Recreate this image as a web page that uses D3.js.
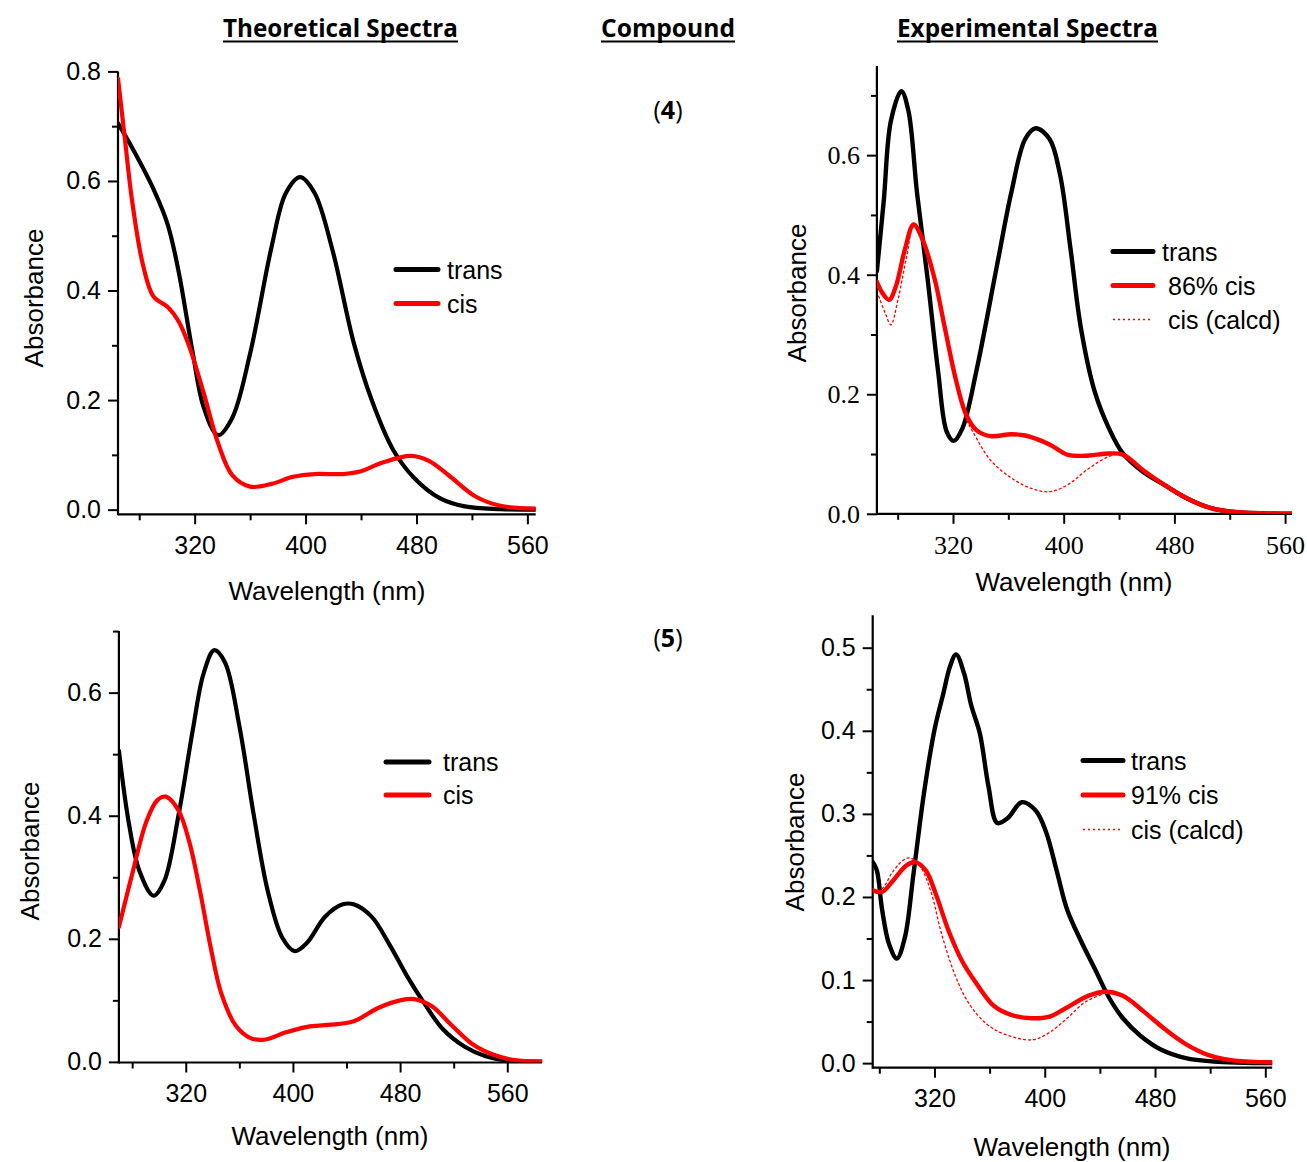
<!DOCTYPE html>
<html>
<head>
<meta charset="utf-8">
<script src="https://cdn.jsdelivr.net/npm/d3@7"></script>
<style>
  body { margin: 0; background: #fff; }
  svg { display: block; }
</style>
</head>
<body>
<div id="main"></div>
<script>
// ---- data: [wavelength nm, absorbance] ----
var theo4Trans = [[264.7,0.705],[275,0.66],[290.3,0.585],[300.6,0.52],[308.4,0.435],[318.7,0.285],[326.5,0.187],
  [336.8,0.136],[347,0.167],[360,0.285],[375.5,0.48],[385.8,0.578],[396.1,0.607],[406.5,0.578],[419.4,0.474],
  [434.8,0.304],[447.7,0.2],[463.2,0.109],[478.7,0.057],[496.8,0.021],[514.8,0.006],[540.6,0.001],[566,0]];
var theo4Cis = [[264.7,0.787],[269.7,0.676],[274.8,0.565],[282.6,0.448],[290.3,0.389],[300.6,0.37],[308.4,0.344],
  [316.1,0.298],[326.5,0.213],[336.8,0.122],[347.1,0.063],[360,0.042],[375.5,0.047],[391,0.06],[406.5,0.065],
  [427.1,0.065],[440,0.07],[455.5,0.086],[476.1,0.098],[489,0.089],[504.5,0.06],[522.6,0.024],[540.6,0.007],[566,0.002]];

var exp4Trans = [[265,0.406],[270,0.525],[275.1,0.657],[282.7,0.707],[287.7,0.675],[294,0.537],[301.6,0.394],
  [309.2,0.239],[315.5,0.137],[320.5,0.122],[326.8,0.143],[336.9,0.239],[352,0.418],[362.1,0.537],[372.2,0.627],
  [379.8,0.645],[389.8,0.627],[397.4,0.567],[405,0.442],[412.5,0.31],[422.6,0.203],[432.7,0.143],[442.8,0.101],
  [457.9,0.069],[473,0.048],[488.2,0.027],[505.8,0.01],[523.5,0.003],[565,0]];
var exp4Cis = [[265,0.388],[268.8,0.37],[273.9,0.358],[278.9,0.382],[285.2,0.442],[291.5,0.484],[297.8,0.46],
  [306.6,0.394],[314.2,0.31],[321.8,0.227],[329.3,0.167],[336.9,0.14],[347,0.13],[362.1,0.133],[372.2,0.131],
  [389.8,0.116],[402.5,0.099],[415,0.097],[432.7,0.101],[442.8,0.099],[457.9,0.072],[473,0.048],[488.2,0.027],
  [505.8,0.01],[523.5,0.003],[565,0]];
var exp4Calcd = [[266.3,0.364],[271.3,0.334],[275.1,0.316],[280.2,0.358],[286.5,0.43],[291.5,0.48],[297.8,0.457],
  [306.6,0.392],[314.2,0.306],[321.8,0.222],[329.3,0.16],[334.4,0.137],[347,0.09],[362.1,0.06],[377.2,0.042],
  [389.8,0.037],[402.5,0.048],[417.6,0.075],[432.7,0.096],[442.8,0.1],[457.9,0.072],[473,0.048],[488.2,0.027],
  [505.8,0.01],[523.5,0.003],[565,0]];

var theo5Trans = [[270.1,0.506],[277.3,0.391],[285.3,0.311],[296,0.27],[304,0.294],[314.7,0.402],[325.3,0.54],
  [333.3,0.631],[341.3,0.669],[349.3,0.649],[360,0.546],[370.7,0.402],[381.3,0.277],[392,0.202],[401.3,0.18],
  [410.7,0.194],[424,0.236],[437.3,0.256],[445.3,0.256],[458.7,0.236],[472,0.191],[485.3,0.139],[498.7,0.093],
  [512,0.053],[528,0.025],[544,0.009],[560,0.002],[586,0]];
var theo5Cis = [[270.1,0.219],[280,0.305],[290.7,0.391],[298.7,0.425],[305.3,0.431],[314.7,0.408],[322.7,0.357],
  [330.7,0.277],[338.7,0.185],[346.7,0.11],[357.3,0.059],[368,0.039],[378.7,0.036],[394.7,0.048],[410.7,0.057],
  [426.7,0.06],[445.3,0.066],[464,0.088],[480,0.1],[490.7,0.102],[504,0.09],[517.3,0.062],[533.3,0.03],
  [549.3,0.012],[565.3,0.003],[586,0.001]];

var exp5Trans = [[275.2,0.242],[278.2,0.232],[282,0.185],[287.1,0.143],[292.7,0.126],[298.5,0.151],[304.8,0.228],
  [312.4,0.325],[320,0.401],[326.3,0.444],[331.4,0.478],[335.7,0.492],[341.5,0.469],[346.6,0.431],[352.9,0.397],
  [359.2,0.333],[365.6,0.289],[373.2,0.295],[383.3,0.314],[393.4,0.304],[401,0.278],[408.6,0.232],[416.2,0.185],
  [426.3,0.147],[436.5,0.113],[446.6,0.079],[456.7,0.054],[469.4,0.033],[484.6,0.016],[502.3,0.006],[522.5,0.002],[565,0]];
var exp5Cis = [[275.2,0.208],[282,0.206],[289.6,0.219],[299.7,0.238],[306.1,0.242],[313.7,0.232],[321.3,0.202],
  [330.1,0.16],[340.3,0.122],[350.4,0.096],[363,0.069],[375.7,0.058],[390.9,0.054],[403.5,0.056],[416.2,0.067],
  [431.4,0.081],[444.1,0.086],[456.7,0.081],[471.9,0.062],[487.1,0.041],[502.3,0.023],[520,0.009],[537.7,0.003],[565,0.001]];
var exp5Calcd = [[275.2,0.206],[282,0.21],[289.6,0.23],[297.2,0.244],[302.3,0.247],[309.9,0.236],[317.5,0.206],
  [325.1,0.156],[335.2,0.105],[345.3,0.071],[358,0.047],[370.6,0.035],[390.9,0.028],[403.5,0.037],[416.2,0.054],
  [428.9,0.073],[441.5,0.083],[444.1,0.086],[456.7,0.081],[471.9,0.062],[487.1,0.041],[502.3,0.023],[520,0.009],
  [537.7,0.003],[565,0.001]];

var xMajor = [320, 400, 480, 560];
var xMinor = [280, 360, 440, 520];
var yMajor8 = [0, 0.2, 0.4, 0.6, 0.8];
var yMinor8 = [0.1, 0.3, 0.5, 0.7];
var yMajor6 = [0, 0.2, 0.4, 0.6];
var yMajor5 = [0, 0.1, 0.2, 0.3, 0.4, 0.5];
var yMinor5 = [0.05, 0.15, 0.25, 0.35, 0.45];

var headers = ['Theoretical Spectra', 'Compound', 'Experimental Spectra'];
var compounds = ['4', '5'];

var W = 1307, H = 1162;
var sans = '"Liberation Sans", Arial, sans-serif';
var serif = '"Liberation Serif", "Times New Roman", serif';

var svg = d3.select('#main').append('svg').attr('width', W).attr('height', H);
svg.append('rect').attr('width', W).attr('height', H).attr('fill', '#fff');

// headings
var headPos = [[223, 235], [601, 134], [897, 261]];
headers.forEach(function(t, i) {
  svg.append('text').attr('x', headPos[i][0]).attr('y', 37)
    .attr('textLength', headPos[i][1]).attr('lengthAdjust', 'spacingAndGlyphs')
    .style('font-family', '"Liberation Sans Narrow", "Open Sans", sans-serif')
    .style('font-weight', 'bold').style('font-size', '25px').text(t);
  svg.append('line').attr('x1', headPos[i][0]).attr('x2', headPos[i][0] + headPos[i][1])
    .attr('y1', 41.5).attr('y2', 41.5).attr('stroke', '#000').attr('stroke-width', 2);
});

[119, 647].forEach(function(y, i) {
  var t = svg.append('text').attr('x', 668).attr('y', y).attr('text-anchor', 'middle')
    .style('font-family', '"Open Sans", sans-serif').style('font-size', '25px');
  t.append('tspan').text('(');
  t.append('tspan').style('font-weight', 'bold').text(compounds[i]);
  t.append('tspan').text(')');
});

function panel(o) {
  var g = svg.append('g');
  var x = d3.scaleLinear().domain(o.xd).range([o.l, o.r]);
  var y = d3.scaleLinear().domain(o.yd).range([o.b, o.t]);

  var xa = g.append('g').attr('transform', 'translate(0,' + o.b + ')')
    .call(d3.axisBottom(x).tickValues(xMajor).tickSize(10).tickPadding(6).tickFormat(d3.format('d')));
  g.append('g').attr('transform', 'translate(0,' + o.b + ')')
    .call(d3.axisBottom(x).tickValues(xMinor).tickSize(6).tickFormat(''));
  var ya = g.append('g').attr('transform', 'translate(' + o.l + ',0)')
    .call(d3.axisLeft(y).tickValues(o.yMajor).tickSize(10).tickPadding(7).tickFormat(d3.format('.1f')));
  g.append('g').attr('transform', 'translate(' + o.l + ',0)')
    .call(d3.axisLeft(y).tickValues(o.yMinor).tickSize(6).tickFormat(''));

  g.selectAll('.tick line').attr('stroke-width', 2);
  // plain axis lines (no end caps)
  g.selectAll('.domain').remove();
  g.append('line').attr('x1', o.l).attr('x2', o.r).attr('y1', o.b).attr('y2', o.b)
    .attr('stroke', '#000').attr('stroke-width', 2.2);
  g.append('line').attr('x1', o.l).attr('x2', o.l).attr('y1', o.t).attr('y2', o.b + 1)
    .attr('stroke', '#000').attr('stroke-width', 2.2);

  [xa, ya].forEach(function(a) {
    a.selectAll('text').style('font-family', o.tickFont).style('font-size', o.tickSize + 'px').attr('fill', '#000');
  });
  xa.selectAll('text').attr('dy', '0.95em');

  g.append('text').attr('x', o.xt[0]).attr('y', o.xt[1]).attr('text-anchor', 'middle')
    .attr('dominant-baseline', 'central')
    .style('font-family', sans).style('font-size', '26px').text('Wavelength (nm)');
  g.append('text').attr('transform', 'translate(' + o.yt[0] + ',' + o.yt[1] + ') rotate(-90)')
    .attr('text-anchor', 'middle').attr('dominant-baseline', 'central')
    .style('font-family', sans).style('font-size', '26px').text('Absorbance');

  var line = d3.line().x(function(d) { return x(d[0]); }).y(function(d) { return y(d[1]); })
    .curve(d3.curveCatmullRom.alpha(0.5));
  var clip = 'clip' + o.id;
  g.append('clipPath').attr('id', clip).append('rect')
    .attr('x', o.l).attr('y', o.t - 20).attr('width', o.r - o.l).attr('height', o.b - o.t + 20);
  var plot = g.append('g').attr('clip-path', 'url(#' + clip + ')');
  o.series.forEach(function(s) {
    plot.append('path').datum(s.data).attr('d', line).attr('fill', 'none')
      .attr('stroke', s.color).attr('stroke-width', s.w)
      .attr('stroke-dasharray', s.dash || null)
      .attr('stroke-linejoin', 'round').attr('stroke-linecap', 'round');
  });

  // legend
  o.series.forEach(function(s, i) {
    var ly = o.leg[1] + i * o.leg[3];
    g.append('line').attr('x1', o.leg[0]).attr('x2', o.leg[0] + o.leg[2]).attr('y1', ly).attr('y2', ly)
      .attr('stroke', s.color).attr('stroke-width', s.dash ? 1.5 : 5)
      .attr('stroke-dasharray', s.dash || null).attr('stroke-linecap', s.dash ? 'butt' : 'round');
    g.append('text').attr('x', o.leg[0] + o.leg[2] + (s.gap || 9)).attr('y', ly)
      .attr('dominant-baseline', 'central')
      .style('font-family', sans).style('font-size', '25px').text(s.name);
  });
}

panel({ id: 1, l: 118, r: 535.7, t: 71.4, b: 514.3, xd: [264.7, 566], yd: [-0.0085, 0.8],
  yMajor: yMajor8, yMinor: yMinor8, tickFont: sans, tickSize: 25,
  xt: [327, 591], yt: [34, 298], leg: [396, 269.5, 42, 34],
  series: [
    { name: 'trans', data: theo4Trans, color: '#000', w: 4.2 },
    { name: 'cis', data: theo4Cis, color: '#f00', w: 4.2 }
  ] });

panel({ id: 2, l: 876.9, r: 1292, t: 66.1, b: 513.8, xd: [265, 565], yd: [0, 0.749],
  yMajor: yMajor6, yMinor: yMinor8, tickFont: serif, tickSize: 26,
  xt: [1074, 582], yt: [797, 293], leg: [1113, 251.5, 40, 34],
  series: [
    { name: 'trans', data: exp4Trans, color: '#000', w: 4.4 },
    { name: '86% cis', data: exp4Cis, color: '#f00', w: 4.4, gap: 15 },
    { name: 'cis (calcd)', data: exp4Calcd, color: '#f00', w: 1.3, dash: '2,3', gap: 15 }
  ] });

panel({ id: 3, l: 118.9, r: 542.1, t: 631.1, b: 1062.5, xd: [270.1, 586], yd: [-0.001, 0.7],
  yMajor: yMajor6, yMinor: yMinor8, tickFont: sans, tickSize: 25,
  xt: [330, 1136], yt: [30, 851], leg: [386, 762, 43, 33],
  series: [
    { name: 'trans', data: theo5Trans, color: '#000', w: 4.2, gap: 14 },
    { name: 'cis', data: theo5Cis, color: '#f00', w: 4.2, gap: 14 }
  ] });

panel({ id: 4, l: 872.7, r: 1272.2, t: 615.3, b: 1067.7, xd: [275.2, 565], yd: [-0.0055, 0.539],
  yMajor: yMajor5, yMinor: yMinor5, tickFont: sans, tickSize: 25,
  xt: [1072, 1147], yt: [795, 842], leg: [1083, 760.5, 40, 34.5],
  series: [
    { name: 'trans', data: exp5Trans, color: '#000', w: 4.4, gap: 8 },
    { name: '91% cis', data: exp5Cis, color: '#f00', w: 4.4, gap: 8 },
    { name: 'cis (calcd)', data: exp5Calcd, color: '#f00', w: 1.3, dash: '2,3', gap: 8 }
  ] });
</script>
</body>
</html>
